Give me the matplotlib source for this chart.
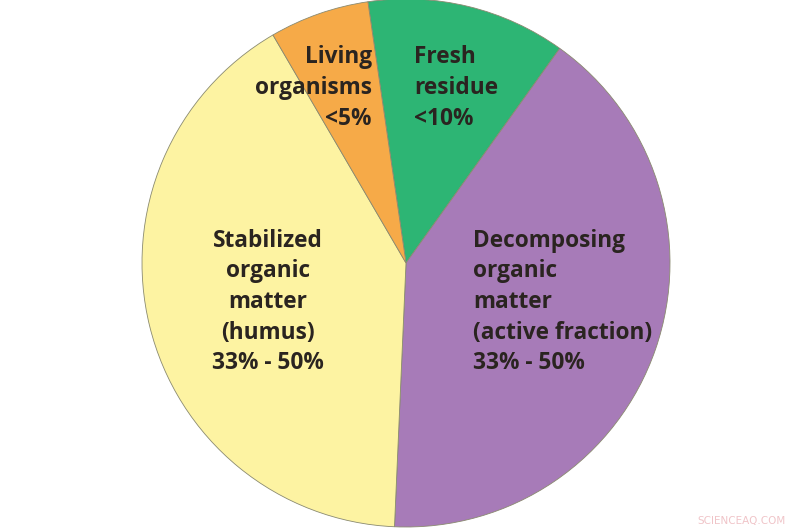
import matplotlib.pyplot as plt

# soil organic matter fractions (estimated slice shares from the picture)
labels = ['Fresh\nresidue\n<10%',
          'Decomposing\norganic\nmatter\n(active fraction)\n33% - 50%',
          'Stabilized\norganic\nmatter\n(humus)\n33% - 50%',
          'Living\norganisms\n<5%']
shares = [12.2, 40.8, 40.9, 6.1]
colors = ['#2db574', '#a77bb8', '#fdf3a2', '#f6aa48']

fig = plt.figure(figsize=(8, 5.3), dpi=100)
ax = fig.add_axes([0, 0, 1, 1])

ax.pie(shares, colors=colors, startangle=98.3, counterclock=False,
       center=(406, 267), radius=264,
       wedgeprops=dict(edgecolor='#8a8a70', linewidth=0.6))

# pie() resets the limits, so set them afterwards
ax.set_xlim(0, 800)
ax.set_ylim(0, 530)
ax.set_aspect('equal')
ax.axis('off')

txt = dict(fontsize=16.3, fontweight='bold', color='#2a2420',
           family='Open Sans', linespacing=1.37, va='center')
ax.text(372, 442, labels[3], ha='right', multialignment='right', **txt)
ax.text(414, 442, labels[0], ha='left', multialignment='left', **txt)
ax.text(268, 228, labels[2], ha='center', multialignment='center', **txt)
ax.text(473, 228, labels[1], ha='left', multialignment='left', **txt)

ax.text(742, 9, 'SCIENCEAQ.COM', fontsize=7.5, color='#f0c4c8',
        ha='center', va='center')

fig.savefig('out.png', dpi=100)
